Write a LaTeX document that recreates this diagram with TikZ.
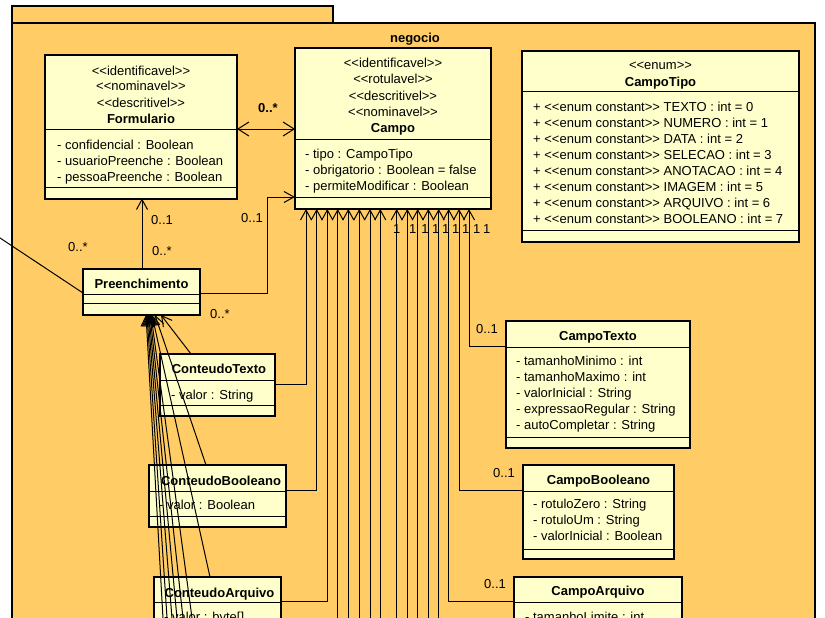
\documentclass[tikz,border=0pt]{standalone}
\usepackage{fontspec}
\setmainfont{Liberation Sans}
\usetikzlibrary{arrows.meta}
\definecolor{pkgc}{RGB}{255,204,102}
\definecolor{clsc}{RGB}{255,255,204}
\newcommand\stx[1]{<\kern0pt<#1>\kern0pt>}
\newcommand\umlbox[7]{%
  \node[classbox, minimum width={#4-#2}, minimum height={#5-#3}] (#1) at (#2,#3) {};
  \draw[divider] (#1.west |- 0,#6) -- (#1.east |- 0,#6);
  \draw[divider] (#1.west |- 0,#7) -- (#1.east |- 0,#7);
}
\begin{document}
\begin{tikzpicture}[x=1pt,y=-1pt,
  pkg/.style={draw=black, line width=2pt, fill=pkgc},
  classbox/.style={draw=black, line width=2pt, fill=clsc, anchor=north west, inner sep=0pt, outer sep=0pt},
  divider/.style={line width=1pt},
  assoc/.style={line width=1pt, -{Straight Barb[length=10pt,width=11pt]}},
  both/.style={line width=1pt, {Straight Barb[length=11pt,width=14pt]}-{Straight Barb[length=11pt,width=14pt]}},
  plain/.style={line width=1pt},
  txt/.style={inner sep=0pt, font=\fontsize{13}{16}\selectfont},
  bld/.style={inner sep=0pt, font=\fontsize{13}{16}\selectfont\bfseries}
]
\useasboundingbox (0,0) rectangle (825,618);
\begin{scope}
\clip (0,0) rectangle (825,618);
% package
\draw[pkg] (12,6.5) rectangle (333,23);
\draw[pkg] (12,23) rectangle (815,700);
\node[bld, anchor=base] (neg) at (415,43) {negocio};

% classes
\umlbox{Form}{45}{55}{237}{198.5}{129}{187}
\umlbox{Campo}{295}{48}{491}{209}{139}{197}
\umlbox{Tipo}{522}{51}{799}{242}{92}{230}
\umlbox{Pre}{83}{269}{200}{315}{294}{303}
\umlbox{CT}{160}{354}{275}{416}{380}{405}
\umlbox{CB}{149}{465}{286}{527}{491}{516}
\umlbox{CA}{154}{577}{281}{700}{602}{690}
\umlbox{CTx}{506}{321}{690}{448}{347}{437}
\umlbox{CBo}{523}{465}{674}{559}{491}{549}
\umlbox{CAr}{514}{577}{682}{700}{602}{690}

% Formulario text
\node[txt, anchor=base] (fs1) at (141,75) {\stx{identificavel}};
\node[txt, anchor=base] (fs2) at (141,91) {\stx{nominavel}};
\node[txt, anchor=base] (fs3) at (141,107) {\stx{descritivel}};
\node[bld, anchor=base] (fn) at (141,123) {Formulario};
\node[txt, anchor=base west] (fa1) at (57,149) {- confidencial : Boolean};
\node[txt, anchor=base west] (fa2) at (57,165) {- usuarioPreenche : Boolean};
\node[txt, anchor=base west] (fa3) at (57,181) {- pessoaPreenche : Boolean};

% Campo text
\node[txt, anchor=base] (cs1) at (393,68) {\stx{identificavel}};
\node[txt, anchor=base] (cs2) at (393,84) {\stx{rotulavel}};
\node[txt, anchor=base] (cs3) at (393,100) {\stx{descritivel}};
\node[txt, anchor=base] (cs4) at (393,116) {\stx{nominavel}};
\node[bld, anchor=base] (cn) at (393,132) {Campo};
\node[txt, anchor=base west] (ca1) at (305,158) {- tipo : CampoTipo};
\node[txt, anchor=base west] (ca2) at (305,174) {- obrigatorio : Boolean = false};
\node[txt, anchor=base west] (ca3) at (305,190) {- permiteModificar : Boolean};

% CampoTipo text
\node[txt, anchor=base] (ts) at (660.5,70) {\stx{enum}};
\node[bld, anchor=base] (tn) at (660.5,86) {CampoTipo};
\foreach \n [count=\i from 0] in {TEXTO,NUMERO,DATA,SELECAO,ANOTACAO,IMAGEM,ARQUIVO,BOOLEANO}
  \node[txt, anchor=base west] (ta\i) at (533,111+16.14*\i) {+ \stx{enum constant} \n\ : int = \i};

% Preenchimento
\node[bld, anchor=base] (pn) at (141.5,288) {Preenchimento};

% Conteudo classes
\node[bld, anchor=base] (ctn) at (219,373) {ConteudoTexto};
\node[txt, anchor=base west] (cta) at (171,399) {- valor : String};
\node[bld, anchor=base] (cbn) at (221,485) {ConteudoBooleano};
\node[txt, anchor=base west] (cba) at (159,509) {- valor : Boolean};
\node[bld, anchor=base] (can) at (219.5,597) {ConteudoArquivo};
\node[txt, anchor=base west] (caa) at (164,621) {- valor : byte[]};

% Campo subclasses
\node[bld, anchor=base] (ctxn) at (598,340) {CampoTexto};
\foreach \t [count=\i from 0] in {tamanhoMinimo : int,tamanhoMaximo : int,valorInicial : String,expressaoRegular : String,autoCompletar : String}
  \node[txt, anchor=base west] (ctxa\i) at (516,365+16.2*\i) {- \t};
\node[bld, anchor=base] (cbon) at (598.5,484) {CampoBooleano};
\foreach \t [count=\i from 0] in {rotuloZero : String,rotuloUm : String,valorInicial : Boolean}
  \node[txt, anchor=base west] (cboa\i) at (533,508+16*\i) {- \t};
\node[bld, anchor=base] (carn) at (598,595) {CampoArquivo};
\node[txt, anchor=base west] (cara) at (525,621) {- tamanhoLimite : int};

% connectors
\draw[both] (Form.east |- 0,129) -- (Campo.west |- 0,129);
\draw[assoc] (142,0 |- Pre.north) -- (142,0 |- Form.south);
\draw[assoc] (Pre.east |- 0,293) -- (267,293) |- (Campo.west |- 0,197);
\coordinate (offl) at (-20,224.7);
\draw[plain] (offl) -- (Pre.west |- 0,293);

% Campo bottom links
\draw[assoc] (CT.east |- 0,384) -| (306,0 |- Campo.south);
\draw[assoc] (CB.east |- 0,490) -| (316.7,0 |- Campo.south);
\draw[assoc] (CA.east |- 0,601) -| (327.3,0 |- Campo.south);
\draw[assoc] (CTx.west |- 0,346) -| (469,0 |- Campo.south);
\draw[assoc] (CBo.west |- 0,490) -| (459,0 |- Campo.south);
\draw[assoc] (CAr.west |- 0,601) -| (448.7,0 |- Campo.south);
\foreach \x [count=\i] in {337.7,348.3,359.3,370,380.3,396.7,407.3,417.7,428.3,438.7}{
  \coordinate (cb\i) at (\x,660);
  \draw[assoc] (cb\i) -- (\x,0 |- Campo.south);
}

% Preenchimento bottom links
\draw[assoc] (191,0 |- CT.north) -- (161,0 |- Pre.south);
\draw[assoc] (206,0 |- CB.north) -- (155,0 |- Pre.south);
\draw[assoc] (210,0 |- CA.north) -- (152,0 |- Pre.south);
\foreach \a/\b [count=\i] in {146/164.2,147/168.5,148/173.7,149/179,150/185.4,151/195}{
  \coordinate (pb\i) at (\b,640);
  \draw[assoc] (pb\i) -- (\a,0 |- Pre.south);
}

% multiplicities
\node[bld, anchor=base west] (m1) at (258,113) {0..*};
\node[txt, anchor=base west] (m2) at (151,224) {0..1};
\node[txt, anchor=base west] (m3) at (152,255) {0..*};
\node[txt, anchor=base west] (m4) at (68,251) {0..*};
\node[txt, anchor=base west] (m5) at (241,222) {0..1};
\node[txt, anchor=base west] (m6) at (210,318) {0..*};
\node[txt, anchor=base west] (m7) at (476,333) {0..1};
\node[txt, anchor=base west] (m8) at (493,477) {0..1};
\node[txt, anchor=base west] (m9) at (484,588) {0..1};
\foreach \x [count=\i] in {396.7,412.7,425,435.7,445.7,455.7,465.7,476.7,486.7}
  \node[txt, anchor=base] (one\i) at (\x,233) {1};
\end{scope}
\end{tikzpicture}
\end{document}
